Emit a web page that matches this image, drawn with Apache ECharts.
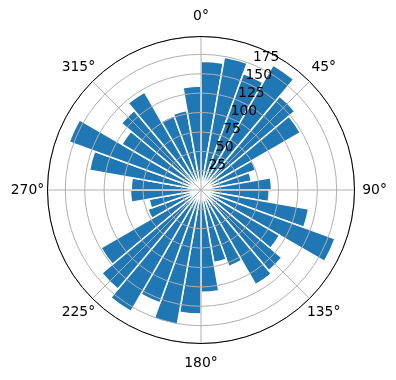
<!DOCTYPE html>
<html><head><meta charset="utf-8">
<script src="https://cdn.jsdelivr.net/npm/echarts@6/dist/echarts.min.js"></script>
<style>html,body{margin:0;padding:0;background:#fff}#c{width:396px;height:380px}</style>
</head><body><div id="c"></div>
<script>
// sector start angles (degrees, clockwise from north), 10 degrees wide each
const sectorStarts = ['0','10','20','30','40','50','60','70','80','90','100','110','120','130','140','150','160','170',
  '180','190','200','210','220','230','240','250','260','270','280','290','300','310','320','330','340','350'];
// bar lengths
const radii = [166,174,160,186,158,148,75,66,91,88,141,184,117,136,141,105,95,132,
  160,176,155,181,167,149,73,68,91,90,146,181,118,134,146,102,104,134];
// angular tick labels, in order starting at 45 degrees
const angleTickLabels = ['45°','90°','135°','180°','225°','270°','315°','0°'];
const radialMax = 198;
const radialStep = 25;

const FONT = 'DejaVu Sans';
const labelPad = {
  '0°':[0,0,18,0], '45°':[0,0,10.7,5.4], '90°':[0,0,0,12.7], '135°':[10.7,0,0,0.9],
  '180°':[18,0,0,0], '225°':[10.7,0.9,0,0], '270°':[0,8.3,0,0], '315°':[0,0.9,10.7,0]
};
const C = [201,190], R = 153.5;
const chart = echarts.init(document.getElementById('c'), null, {renderer:'canvas'});
chart.setOption({
  animation:false,
  backgroundColor:'#fff',
  polar:[{center:C, radius:R},{center:C, radius:R},{center:C, radius:R}],
  angleAxis:[
    {polarIndex:0, type:'category', data:sectorStarts, startAngle:90, clockwise:true, boundaryGap:true,
     axisLine:{show:false}, axisTick:{show:false}, axisLabel:{show:false}, splitLine:{show:false}},
    {polarIndex:1, type:'category', startAngle:67.5, clockwise:true, boundaryGap:true,
     data:angleTickLabels.map(l=>({value:l, textStyle:{padding:labelPad[l]}})),
     axisLine:{show:true, lineStyle:{color:'#000', width:1}}, axisTick:{show:false},
     axisLabel:{show:true, interval:0, margin:-5, color:'#000', fontSize:13.9, fontFamily:FONT},
     splitLine:{show:false}, z:6},
    {polarIndex:2, type:'value', min:0, max:360, interval:45, startAngle:90, clockwise:true,
     axisLine:{show:false}, axisTick:{show:false}, axisLabel:{show:false},
     splitLine:{show:true, lineStyle:{color:'#b0b0b0', width:1}}, z:5}
  ],
  radiusAxis:[
    {polarIndex:0, type:'value', min:0, max:radialMax, show:false},
    {polarIndex:1, type:'value', min:0, max:radialMax, interval:radialStep,
     axisLine:{show:false}, axisTick:{show:false}, splitLine:{show:false},
     axisLabel:{show:true, margin:0, align:'left', verticalAlign:'bottom', color:'#000', fontSize:13.9, fontFamily:FONT,
       formatter:v=> (v>0 && v%radialStep===0) ? String(v) : ''}, z:7},
    {polarIndex:2, type:'value', min:0, max:radialMax, interval:radialStep,
     axisLine:{show:false}, axisTick:{show:false}, axisLabel:{show:false},
     splitLine:{show:true, lineStyle:{color:'#b0b0b0', width:1}}, z:5}
  ],
  series:[{type:'bar', coordinateSystem:'polar', polarIndex:0, data:radii, barCategoryGap:'0%',
    itemStyle:{color:'#1f77b4', borderColor:'#fff', borderWidth:1.5}, z:2}]
});
</script></body></html>
